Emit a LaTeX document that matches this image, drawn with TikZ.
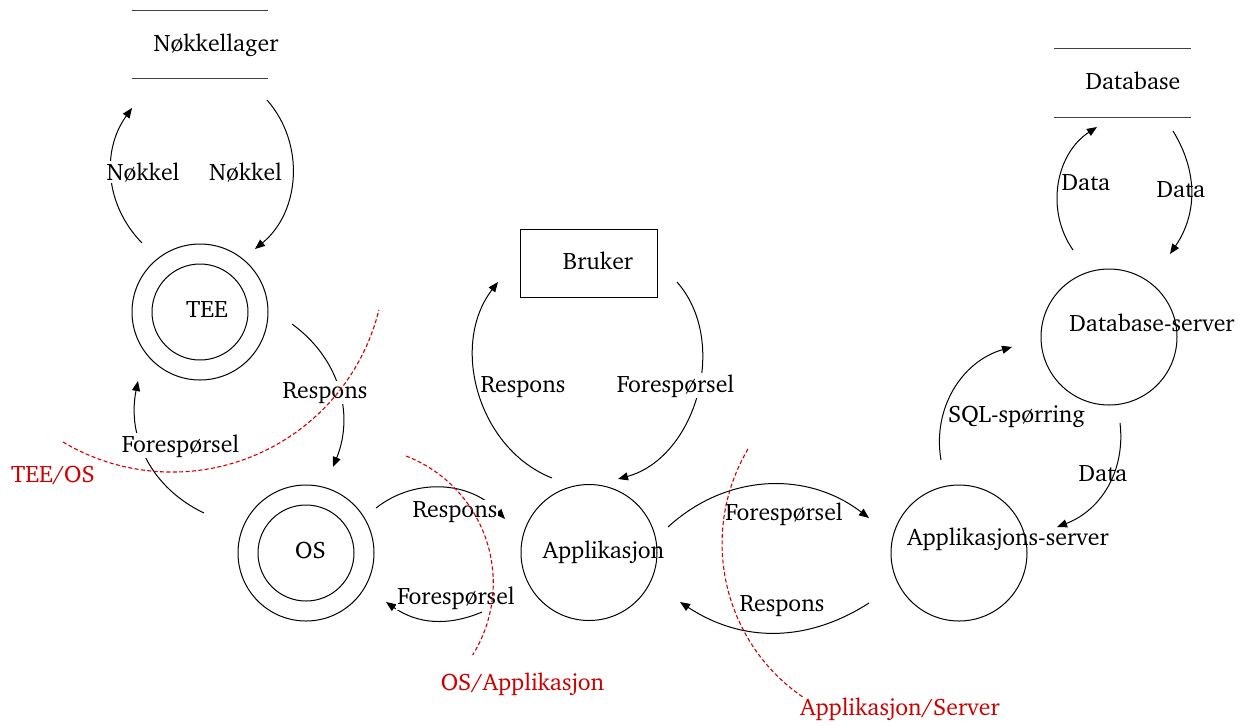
\documentclass[tikz,border=0pt]{standalone}
\usepackage[T1]{fontenc}
\usepackage{charter}
\usetikzlibrary{arrows.meta}
\definecolor{sepred}{RGB}{204,0,0}
\begin{document}
\begin{tikzpicture}[x=0.5pt,y=0.5pt]
\tikzset{
  every node/.style={font=\fontsize{11.9}{14.2}\selectfont},
  proc/.style={circle, draw, line width=0.5pt, minimum size=68pt, inner sep=0pt},
  core/.style={circle, draw, line width=0.5pt, minimum size=48pt, inner sep=0pt},
  store/.style={minimum width=68pt, minimum height=33.5pt, inner sep=0pt},
  entity/.style={draw, line width=0.5pt, minimum width=68.5pt, minimum height=34pt, inner sep=0pt},
  txt/.style={anchor=base, inner sep=0pt},
  elabel/.style={anchor=base, inner sep=0.5pt, fill=white},
  plainlabel/.style={anchor=base, inner sep=0pt},
  flow/.style={line width=0.5pt, -{Triangle[length=5pt,width=4pt]}},
  boundary/.style={draw=sepred, line width=0.55pt, dash pattern=on 2pt off 1.2pt},
  boundarytext/.style={anchor=base, text=sepred, inner sep=0pt},
}
\useasboundingbox (0,0) rectangle (1254,-725);

% data stores
\node[store] (keystore) at (200,-44.5) {};
\draw[line width=0.5pt, black!75] (keystore.north west) -- (keystore.north east)
      (keystore.south west) -- (keystore.south east);
\node[txt] (keystoreT) at (216,-51) {Nøkkellager};

\node[store, minimum width=68.5pt, minimum height=34pt] (db) at (1122.5,-83) {};
\draw[line width=0.5pt, black!75] (db.north west) -- (db.north east)
      (db.south west) -- (db.south east);
\node[txt] (dbT) at (1133,-89) {Database};

% processes
\node[proc] (tee) at (200,-312) {};
\node[core] (teeIn) at (200,-312) {};
\node[txt] (teeT) at (207,-317) {TEE};

\node[proc] (os) at (306,-553) {};
\node[core] (osIn) at (306,-553) {};
\node[txt] (osT) at (310.5,-558) {OS};

\node[entity] (user) at (588.5,-263) {};
\node[txt] (userT) at (598,-269) {Bruker};

\node[proc] (app) at (589,-552.5) {};
\node[txt] (appT) at (603.5,-558) {Applikasjon};

\node[proc] (appsrv) at (959,-553) {};
\node[txt] (appsrvT) at (1008,-545) {Applikasjons-server};

\node[proc] (dbsrv) at (1109,-337) {};
\node[txt] (dbsrvT) at (1152,-331) {Database-server};

% connector end points
\coordinate (k1s) at (142,-243);  \coordinate (k1e) at (132,-108);
\coordinate (k2s) at (267,-100);  \coordinate (k2e) at (255,-249);
\coordinate (r1s) at (292,-324);  \coordinate (r1e) at (333,-467);
\coordinate (f1s) at (204,-513);  \coordinate (f1e) at (138,-381);
\coordinate (r2s) at (376,-508);  \coordinate (r2e) at (505,-519);
\coordinate (f2s) at (482,-612);  \coordinate (f2e) at (386,-602);
\coordinate (r3s) at (552,-478);  \coordinate (r3e) at (498,-282);
\coordinate (f3s) at (677,-282);  \coordinate (f3e) at (618,-479);
\coordinate (f4s) at (668,-527);  \coordinate (f4e) at (869,-518);
\coordinate (r4s) at (869,-603);  \coordinate (r4e) at (680,-602);
\coordinate (sqs) at (941,-460);  \coordinate (sqe) at (1012,-347);
\coordinate (d1s) at (1120,-423); \coordinate (d1e) at (1057,-527);
\coordinate (d2s) at (1073,-250); \coordinate (d2e) at (1097,-127);
\coordinate (d3s) at (1173,-131); \coordinate (d3e) at (1170,-254);

% data flows
\draw[flow] (k1s) to[bend left=40] (k1e);
\draw[flow] (k2s) to[bend left=46] (k2e);
\draw[flow] (r1s) to[bend left=38] (r1e);
\draw[flow] (f1s) to[bend left=38] (f1e);
\draw[flow] (r2s) to[bend left=43] (r2e);
\draw[flow] (f2s) to[bend left=29] (f2e);
\draw[flow] (r3s) to[bend left=53] (r3e);
\draw[flow] (f3s) to[bend left=58] (f3e);
\draw[flow] (f4s) to[bend left=40] (f4e);
\draw[flow] (r4s) to[bend left=33] (r4e);
\draw[flow] (sqs) to[bend left=42] (sqe);
\draw[flow] (d1s) to[bend left=38] (d1e);
\draw[flow] (d2s) to[bend left=46] (d2e);
\draw[flow] (d3s) to[bend left=33] (d3e);

% flow labels
\node[elabel] (k1L) at (143,-180) {Nøkkel};
\node[elabel] (k2L) at (245.5,-180) {Nøkkel};
\node[elabel] (r1L) at (325,-398) {Respons};
\node[elabel] (f1L) at (180.5,-452) {Forespørsel};
\node[elabel] (r2L) at (455,-517) {Respons};
\node[elabel] (f2L) at (456,-604) {Forespørsel};
\node[elabel] (r3L) at (523,-392) {Respons};
\node[elabel] (f3L) at (675.5,-392) {Forespørsel};
\node[elabel] (f4L) at (784,-520) {Forespørsel};
\node[elabel] (r4L) at (782,-611) {Respons};
\node[elabel] (sqL) at (1016.5,-422) {SQL-spørring};
\node[plainlabel] (d1L) at (1103,-481) {Data};
\node[plainlabel] (d2L) at (1086,-190) {Data};
\node[plainlabel] (d3L) at (1181,-197) {Data};

% trust boundaries
\draw[boundary] (63,-442) arc[start angle=239.2, end angle=346.2, radius=106.5pt];
\node[boundarytext] (b1) at (53,-482) {TEE/OS};
\draw[boundary] (406,-456) arc[start angle=69, end angle=-32, radius=68pt];
\node[boundarytext] (b2) at (522.5,-690) {OS/Applikasjon};
\draw[boundary] (748,-449) arc[start angle=149.4, end angle=236, radius=93pt];
\node[boundarytext] (b3) at (900,-715) {Applikasjon/Server};
\end{tikzpicture}
\end{document}
